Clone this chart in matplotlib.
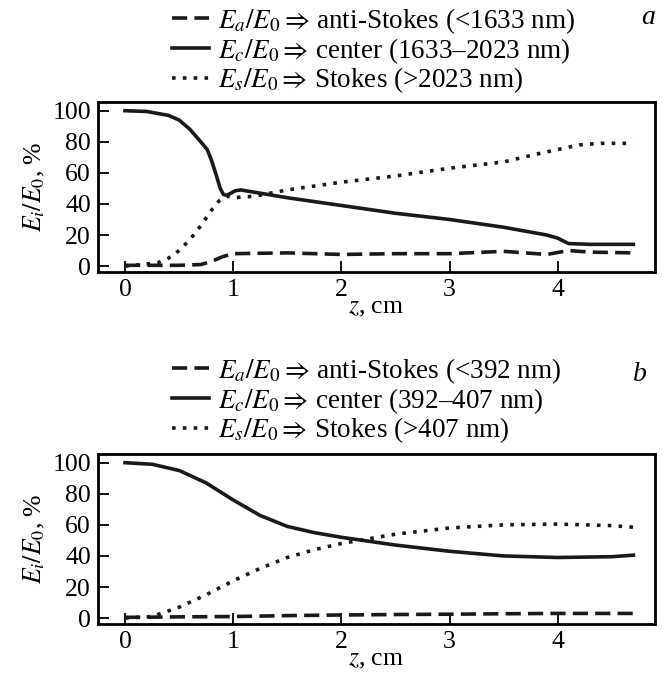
import matplotlib
matplotlib.use('Agg')
import matplotlib.pyplot as plt

plt.rcParams['font.family'] = ['Liberation Serif', 'DejaVu Serif']
plt.rcParams['mathtext.fontset'] = 'stix'
plt.rcParams['font.size'] = 18.5

# panel a data
za_c = [0, 0.2, 0.4, 0.5, 0.6, 0.7, 0.76, 0.8, 0.85, 0.88, 0.91, 0.94, 0.98, 1.02, 1.07, 1.2, 1.5, 2.0, 2.5, 3.0, 3.5, 3.9, 4.0, 4.1, 4.3, 4.7]
ea_c = [100, 99.5, 97, 94, 88, 80, 75, 68, 57, 50, 46, 45.5, 47, 48.5, 49, 47.5, 44, 39, 34, 30, 25, 20, 18, 14.5, 14, 14]
za_s = [0, 0.3, 0.4, 0.5, 0.6, 0.7, 0.8, 0.87, 0.95, 1.0, 1.2, 1.5, 2.0, 2.5, 3.0, 3.5, 3.8, 4.0, 4.2, 4.4, 4.7]
ea_s = [0, 2, 5, 10, 17, 26, 36, 42, 45, 44, 45, 49, 54, 58, 63, 67, 72, 75, 78, 79, 79]
za_a = [0, 0.5, 0.7, 0.8, 0.9, 1.0, 1.5, 2.0, 2.5, 3.0, 3.5, 3.9, 4.1, 4.3, 4.7]
ea_a = [0.5, 0.5, 1, 3, 6, 8, 8.5, 7.5, 8, 8, 9.5, 7.5, 10, 9, 8.5]

# panel b data
zb = [0, 0.25, 0.5, 0.75, 1.0, 1.25, 1.5, 1.75, 2.0, 2.5, 3.0, 3.5, 4.0, 4.5, 4.7]
eb_c = [100, 99, 95, 87, 76, 66, 59, 55, 52, 47, 43, 40, 39, 39.5, 40.5]
eb_s = [0, 1, 7, 15, 24, 32, 39, 44, 48, 54, 58, 60, 60.5, 59.5, 58.5]
eb_a = [0.5, 0.6, 0.8, 0.9, 1, 1.3, 1.6, 1.8, 2, 2.3, 2.5, 2.8, 3, 3, 3]

labels_a = [r'$E_a/E_0 \Rightarrow\,$anti-Stokes (<1633 nm)',
            r'$E_c/E_0 \Rightarrow\,$center (1633–2023 nm)',
            r'$E_s/E_0 \Rightarrow\,$Stokes (>2023 nm)']
labels_b = [r'$E_a/E_0 \Rightarrow\,$anti-Stokes (<392 nm)',
            r'$E_c/E_0 \Rightarrow\,$center (392–407 nm)',
            r'$E_s/E_0 \Rightarrow\,$Stokes (>407 nm)']

fig = plt.figure(figsize=(6.71, 6.8), dpi=100)
W, H = 671, 680
ax1 = fig.add_axes([98 / W, 1 - 272 / H, 557 / W, 170 / H])
ax2 = fig.add_axes([98 / W, 1 - 624 / H, 557 / W, 170 / H])


def draw(ax, za, ea, zc, ec, zs, es, labels, letter, leg_y, letter_x, letter_y):
    la, = ax.plot(za, ea, color='#1a1a1a', linestyle=(0, (4.2, 2)), linewidth=2.6)
    lc, = ax.plot(zc, ec, color='#1a1a1a', linestyle='-', linewidth=2.6)
    ls, = ax.plot(zs, es, color='#1a1a1a', linestyle=(0, (1, 2)), linewidth=2.6)
    ax.set_xlim(-0.25, 4.9)
    ax.set_ylim(-3.8, 105.6)
    ax.set_xticks([0, 1, 2, 3, 4])
    ax.set_yticks([0, 20, 40, 60, 80, 100])
    ax.tick_params(direction='in', length=8, width=1.3, pad=5)
    for s in ax.spines.values():
        s.set_linewidth(2)
    ax.set_xlabel('$z$, cm', labelpad=-3)
    ax.set_ylabel('$E_i/E_0$, %', labelpad=4)
    fig.legend([la, lc, ls], labels, loc='upper left',
               bbox_to_anchor=(172 / W, 1 - leg_y / H), frameon=False,
               handlelength=1.35, handletextpad=0.35, labelspacing=0.0,
               borderpad=0, borderaxespad=0, fontsize=19.5)
    fig.text(letter_x / W, 1 - letter_y / H, letter, style='italic', fontsize=20,
             ha='center', va='center')


draw(ax1, za_a, ea_a, za_c, ea_c, za_s, ea_s, labels_a, 'a', 6, 648, 17)
draw(ax2, zb, eb_a, zb, eb_c, zb, eb_s, labels_b, 'b', 356, 640, 374)

fig.savefig('out.png', dpi=100)
